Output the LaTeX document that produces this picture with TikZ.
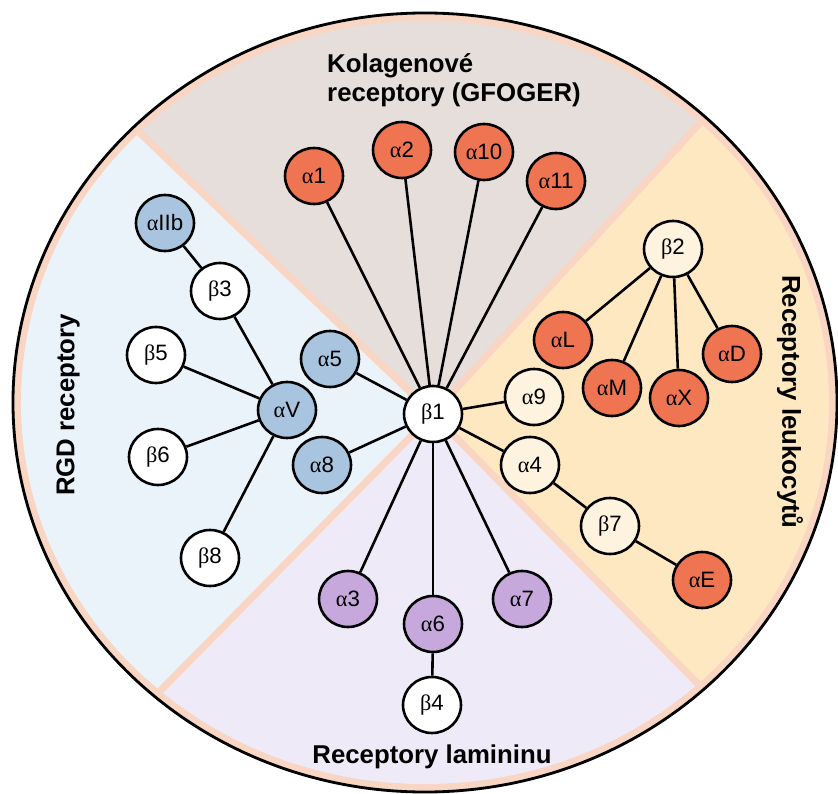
\documentclass[tikz,border=0pt]{standalone}
\usepackage{fontspec}
\setmainfont{Liberation Sans}
\newfontfamily\grk{Liberation Serif}
\usetikzlibrary{shapes.geometric}
\definecolor{peach}{HTML}{F9D6C4}
\definecolor{secgrey}{HTML}{E6DEDB}
\definecolor{secyellow}{HTML}{FDE8C2}
\definecolor{seclav}{HTML}{EFEAF8}
\definecolor{secblue}{HTML}{EAF2FA}
\definecolor{ndorange}{HTML}{EE7452}
\definecolor{ndblue}{HTML}{A8C4DF}
\definecolor{ndpurple}{HTML}{C7A8DC}
\definecolor{ndcream}{HTML}{FEF3DE}
\newcommand{\myA}{{\grk α}}
\newcommand{\myB}{{\grk β}}
\begin{document}
\begin{tikzpicture}[x=0.03cm,y=-0.03cm,
  nd/.style={ellipse, draw=black, line width=2.2pt, inner sep=0pt,
    minimum width=1.74cm, minimum height=1.68cm,
    font=\fontsize{19pt}{21pt}\selectfont},
  ndo/.style={nd, fill=ndorange},
  ndb/.style={nd, fill=ndblue},
  ndp/.style={nd, fill=ndpurple},
  ndw/.style={nd, fill=white},
  ndc/.style={nd, fill=ndcream},
  conn/.style={draw=black, line width=2.2pt},
  lbl/.style={font=\fontsize{22pt}{24.6pt}\bfseries\selectfont, inner sep=0pt},
  sep/.style={draw=peach, line width=6pt}
]
\useasboundingbox (0,0) rectangle (838,794);
% background
\fill[peach] (425,402.5) ellipse [x radius=12.36cm, y radius=11.685cm];
\coordinate (C) at (433,414);
\coordinate (TL) at (-434,-417);
\coordinate (TR) at (1234,-459);
\coordinate (BL) at (-386,1245);
\coordinate (BR) at (1249,1245);
\begin{scope}
  \clip (425,402.5) ellipse [x radius=12.12cm, y radius=11.445cm];
  \fill[secgrey] (C) -- (TL) -- (TR) -- cycle;
  \fill[secyellow] (C) -- (TR) -- (BR) -- cycle;
  \fill[seclav] (C) -- (BR) -- (BL) -- cycle;
  \fill[secblue] (C) -- (BL) -- (TL) -- cycle;
  \draw[sep] (C) -- (TL);
  \draw[sep] (C) -- (TR);
  \draw[sep] (C) -- (BL);
  \draw[sep] (C) -- (BR);
\end{scope}
\draw[line width=2.4pt] (425,402.5) ellipse [x radius=12.36cm, y radius=11.685cm];

% labels
\node[lbl, anchor=base west] (k1) at (327,73) {Kolagenové};
\node[lbl, anchor=base west] (k2) at (327,102) {receptory (GFOGER)};
\node[lbl, rotate=90] (rgd) at (68,405) {RGD receptory};
\node[lbl, rotate=-90] (leu) at (790,402) {Receptory leukocytů};
\node[lbl, anchor=base] (lam) at (432,763) {Receptory lamininu};

% nodes
\node[ndw] (b1) at (433,414) {\myB1};
\node[ndo] (a1) at (314,176) {\myA1};
\node[ndo] (a2) at (402,150) {\myA2};
\node[ndo] (a10) at (484,152) {\myA10};
\node[ndo] (a11) at (556,181) {\myA11};
\node[ndb] (aIIb) at (165,223) {\myA IIb};
\node[ndw] (b3) at (220,291) {\myB3};
\node[ndw] (b5) at (156,355) {\myB5};
\node[ndb] (a5) at (330,359) {\myA5};
\node[ndb] (a8) at (322,465) {\myA8};
\node[ndb] (aV) at (287,410) {\myA V};
\node[ndw] (b6) at (158,457) {\myB6};
\node[ndw] (b8) at (210,558) {\myB8};
\node[ndc] (b2) at (673,249) {\myB2};
\node[ndo] (aL) at (563,340) {\myA L};
\node[ndo] (aM) at (612,388) {\myA M};
\node[ndo] (aX) at (679,398) {\myA X};
\node[ndo] (aD) at (732,354) {\myA D};
\node[ndc] (a9) at (534,397) {\myA9};
\node[ndc] (a4) at (530,465) {\myA4};
\node[ndc] (b7) at (610,526) {\myB7};
\node[ndo] (aE) at (702,580) {\myA E};
\node[ndp] (a3) at (348,599) {\myA3};
\node[ndp] (a6) at (433,624) {\myA6};
\node[ndp] (a7) at (522,599) {\myA7};
\node[ndw] (b4) at (432,705) {\myB4};

% connectors
\draw[conn] (b1) -- (a1);
\draw[conn] (b1) -- (a2);
\draw[conn] (b1) -- (a10);
\draw[conn] (b1) -- (a11);
\draw[conn] (b1) -- (a5);
\draw[conn] (b1) -- (a8);
\draw[conn] (b1) -- (a9);
\draw[conn] (b1) -- (a4);
\draw[conn] (b1) -- (a3);
\draw[conn] (b1) -- (a6);
\draw[conn] (b1) -- (a7);
\draw[conn] (a6) -- (b4);
\draw[conn] (aIIb) -- (b3);
\draw[conn] (b3) -- (aV);
\draw[conn] (b5) -- (aV);
\draw[conn] (b6) -- (aV);
\draw[conn] (b8) -- (aV);
\draw[conn] (b2) -- (aL);
\draw[conn] (b2) -- (aM);
\draw[conn] (b2) -- (aX);
\draw[conn] (b2) -- (aD);
\draw[conn] (a4) -- (b7);
\draw[conn] (b7) -- (aE);
\end{tikzpicture}
\end{document}
